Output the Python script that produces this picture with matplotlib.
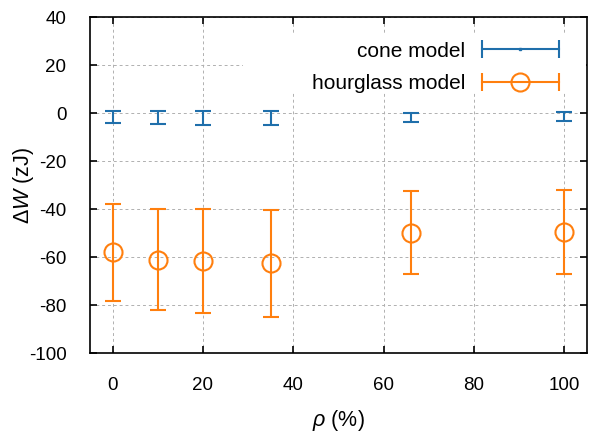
import numpy as np
import matplotlib
matplotlib.use("Agg")
from matplotlib import pyplot as plt
from matplotlib.lines import Line2D
from matplotlib.patches import Rectangle
from matplotlib.legend_handler import HandlerLine2D, HandlerTuple

plt.rcParams['font.family'] = ['Liberation Sans', 'DejaVu Sans']
plt.rcParams['mathtext.fontset'] = 'custom'
plt.rcParams['mathtext.rm'] = 'Liberation Sans'
plt.rcParams['mathtext.it'] = 'Liberation Sans:italic'
plt.rcParams['axes.unicode_minus'] = False

# data
rho = [0, 10, 20, 35, 66, 100]
cone_w = [-1.5, -1.7, -1.9, -2.0, -1.8, -1.3]
cone_err = [2.5, 2.7, 2.9, 2.8, 1.8, 1.9]
hg_w = [-58.1, -61.1, -61.5, -62.7, -49.8, -49.6]
hg_err = [20.2, 21.1, 21.7, 22.4, 17.2, 17.4]

labels = ["cone model", "hourglass model"]
blue = "#1f6fab"
orange = "#ff7f0e"

fig = plt.figure(figsize=(5.89, 4.34), dpi=100)
ax = fig.add_axes([0.1528, 0.1866, 0.8438, 0.7742])

ax.errorbar(rho, cone_w, yerr=cone_err, fmt='none', ecolor=blue,
            elinewidth=1.5, capsize=6, capthick=1.5, zorder=3)
ax.errorbar(rho, hg_w, yerr=hg_err, fmt='o', color=orange, mfc='none',
            ms=13, mew=1.5, elinewidth=1.5, capsize=6, capthick=1.5, zorder=3)

ax.set_xlim(-5, 105)
ax.set_ylim(-100, 40)
ax.set_xticks(np.arange(0, 101, 20))
ax.set_yticks(np.arange(-100, 41, 20))
ax.tick_params(direction='in', top=True, right=True, length=5, width=1.2,
               labelsize=13.5)
ax.tick_params(axis='x', pad=17)
ax.tick_params(axis='y', pad=17)
for s in ax.spines.values():
    s.set_linewidth(1.2)

ax.set_axisbelow(True)
ax.grid(True, color='#b0b0b0', linestyle=(0, (3, 3)), linewidth=0.7)

# opaque key box
ax.add_patch(Rectangle((0.308, 0.774), 0.69, 0.175, transform=ax.transAxes,
                       facecolor='white', edgecolor='none', zorder=1))

ax.set_xlabel(r'$\mathit{\rho}$ (%)', fontsize=15.5)
ax.set_ylabel(r'$\mathit{\Delta W}$ (zJ)', fontsize=15.5)
ax.xaxis.set_label_coords(0.5, -0.165)
ax.yaxis.set_label_coords(-0.109, 0.5)

cap_b = Line2D([], [], color=blue, lw=1.5, marker='|', ms=13, mew=1.5)
dot_b = Line2D([], [], color=blue, ls='none', marker='s', ms=2)
cap_o = Line2D([], [], color=orange, lw=1.5, marker='|', ms=13, mew=1.5)
circ_o = Line2D([], [], color=orange, ls='none', marker='o', ms=13,
                mfc='none', mew=1.5)
hmap = {tuple: HandlerTuple(ndivide=1, pad=0),
        cap_b: HandlerLine2D(numpoints=2, marker_pad=0),
        cap_o: HandlerLine2D(numpoints=2, marker_pad=0)}
ax.legend([(cap_b, dot_b), (cap_o, circ_o)], labels, handler_map=hmap,
          numpoints=1, markerfirst=False, frameon=False, fontsize=15,
          loc='upper right', bbox_to_anchor=(0.9437, 0.927), borderpad=0,
          handlelength=3.7, handletextpad=0.8, labelspacing=0.65,
          borderaxespad=0)

fig.savefig("out.png", dpi=100)
